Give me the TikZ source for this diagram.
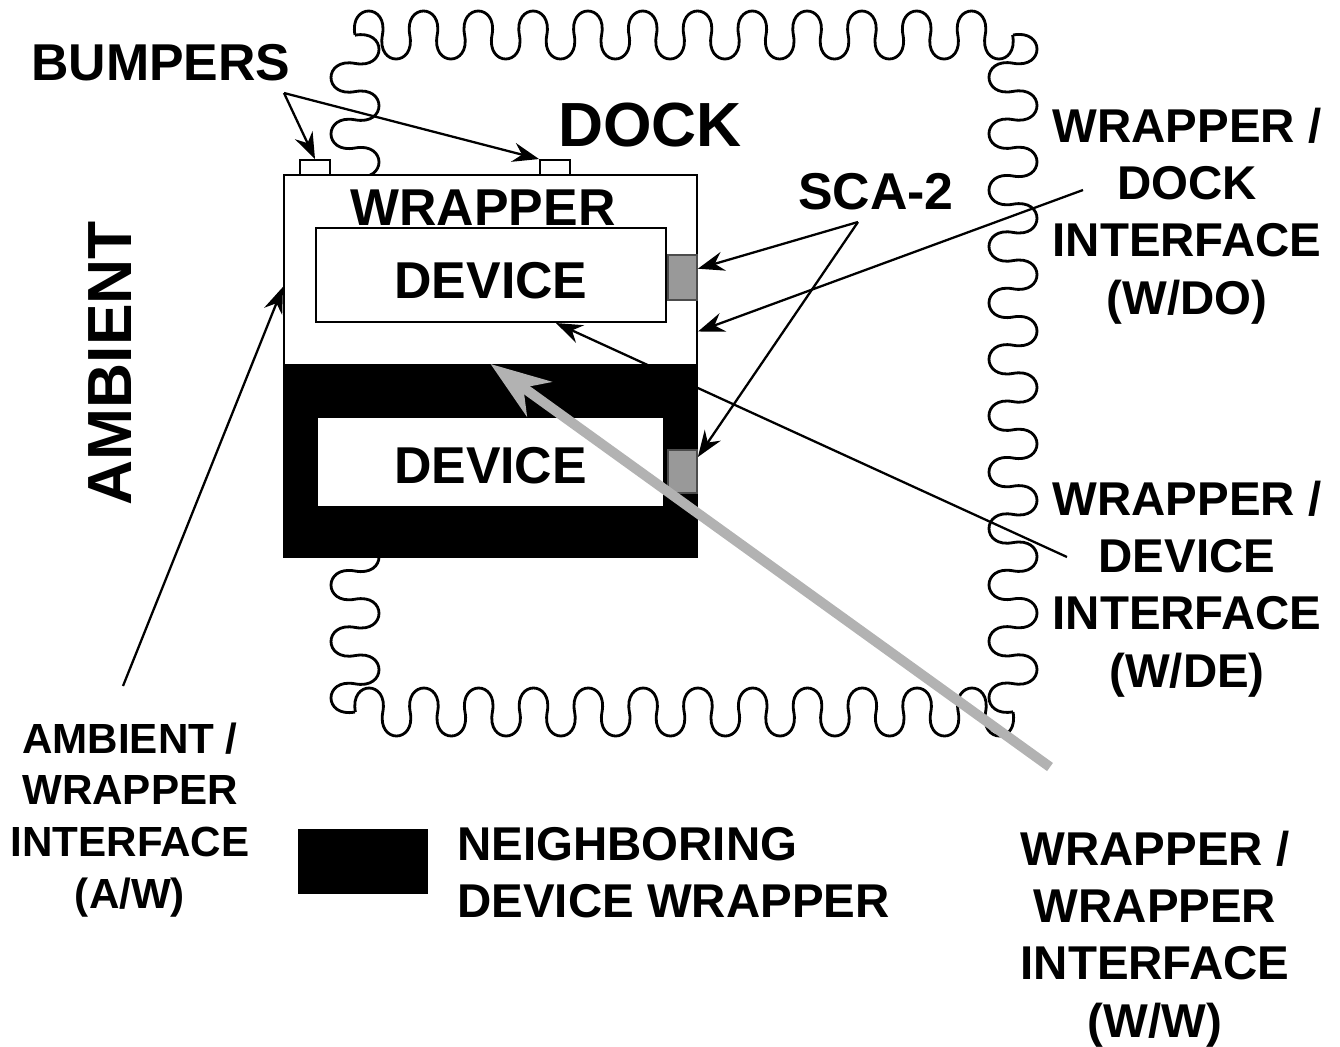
\documentclass[tikz,border=0pt]{standalone}
\usepackage{fontspec}
\setmainfont{Liberation Sans}
\usetikzlibrary{arrows.meta}

\tikzset{
  box/.style={draw, line width=1.2pt, fill=white, inner sep=0pt},
  sca/.style={draw=black!70, line width=1pt, fill=black!40, inner sep=0pt, minimum width=0.58cm},
  bumper/.style={draw, line width=1.1pt, fill=white, inner sep=0pt, minimum width=0.6cm, minimum height=0.3cm},
  pointer/.style={line width=1.3pt, -{Stealth[length=15pt,width=11pt,inset=5pt]}},
  dockline/.style={line width=1.6pt, line join=round},
  hugetext/.style={inner sep=0pt, font=\fontsize{35.5}{40}\selectfont\bfseries},
  bigtext/.style={inner sep=0pt, font=\fontsize{29.5}{34}\selectfont\bfseries},
  midtext/.style={inner sep=0pt, font=\fontsize{27}{32.6}\selectfont\bfseries, align=center},
  smalltext/.style={inner sep=0pt, font=\fontsize{24}{29.5}\selectfont\bfseries, align=center},
}

\begin{document}
\begin{tikzpicture}[x=0.02cm, y=-0.02cm]
    \useasboundingbox (0,0) rectangle (1340,1046);

    % 1. The dock (wavy outline), one edge at a time
    \coordinate (DTL) at (355,35);    % dock top left
    \coordinate (DTR) at (1013,35);   % dock top right
    \coordinate (DBR) at (1013,712);  % dock bottom right
    \coordinate (DBL) at (355,712);   % dock bottom left
    % top edge, going right
    \draw[dockline] (DTL) \foreach \i in {1,...,12} {
        .. controls +(-6,-32) and +(6,-32) .. ++(27.4,0)
        .. controls +(-6,32) and +(6,32) .. ++(27.4,0)};
    % right edge, going down
    \draw[dockline] (DTR) \foreach \i in {1,...,12} {
        .. controls +(32,-6) and +(32,6) .. ++(0,28.2)
        .. controls +(-32,-6) and +(-32,6) .. ++(0,28.2)};
    % bottom edge, going left
    \draw[dockline] (DBR) \foreach \i in {1,...,12} {
        .. controls +(6,32) and +(-6,32) .. ++(-27.4,0)
        .. controls +(6,-32) and +(-6,-32) .. ++(-27.4,0)};
    % left edge, going up
    \draw[dockline] (DBL) \foreach \i in {1,...,12} {
        .. controls +(-32,6) and +(-32,-6) .. ++(0,-28.2)
        .. controls +(32,6) and +(32,-6) .. ++(0,-28.2)};

    % 2. The wrapper and its device
    \node[box, minimum width=8.26cm, minimum height=3.8cm] (wrapper) at (490.5,270) {};
    \node[bigtext] (wraptext) at (483,208) {WRAPPER};
    \node[box, minimum width=7cm, minimum height=1.88cm] (devU) at (491,275) {};
    \node[bigtext] at ([yshift=-3.4pt]devU.center) {DEVICE};

    % W/DE line runs behind the neighbouring wrapper
    \coordinate (wdeend) at (1067,557);
    \draw[pointer] (wdeend) -- ([xshift=37pt]devU.south);

    % 3. The neighbouring device wrapper
    \node[box, fill=black, minimum width=8.26cm, minimum height=3.84cm] (nbr) at (490.5,461) {};
    \node[box, minimum width=6.94cm, minimum height=1.8cm] (devL) at (490.5,462) {};
    \node[bigtext] at ([yshift=-2.3pt]devL.center) {DEVICE};

    % SCA-2 connectors
    \node[sca, minimum height=0.9cm] (scaU) at (682.5,277.5) {};
    \node[sca, minimum height=0.86cm] (scaL) at (682.5,471.5) {};

    % Bumpers
    \node[bumper] (bumpL) at (315,167.5) {};
    \node[bumper] (bumpR) at (555,167.5) {};

    % 4. Labels
    \node[bigtext] (bumpers) at (161,63) {BUMPERS};
    \node[hugetext] (dock) at (650,125) {DOCK};
    \node[hugetext, rotate=90] (ambient) at (110,363) {AMBIENT};
    \node[bigtext] (scalabel) at (876,192) {SCA-2};
    \node[midtext] (wdo) at (1187,216) {WRAPPER /\\DOCK\\INTERFACE\\(W/DO)};
    \node[midtext] (wde) at (1187,589) {WRAPPER /\\DEVICE\\INTERFACE\\(W/DE)};
    \node[midtext] (ww) at (1155,939) {WRAPPER /\\WRAPPER\\INTERFACE\\(W/W)};
    \node[smalltext] (aw) at (130,820) {AMBIENT /\\WRAPPER\\INTERFACE\\(A/W)};

    % Legend
    \node[box, fill=black, minimum width=2.56cm, minimum height=1.26cm] (legend) at (363,861.5) {};
    \node[midtext, align=left, anchor=west] (legendtext) at (457,873) {NEIGHBORING\\DEVICE WRAPPER};

    % 5. Pointers
    \coordinate (bumpfork) at (284,93);
    \draw[pointer] (bumpfork) -- (bumpL.north);
    \draw[pointer] (bumpfork) -- (bumpR.north west);

    \coordinate (scafork) at (858,222);
    \draw[pointer] (scafork) -- ([yshift=5pt]scaU.east);
    \draw[pointer] (scafork) -- ([yshift=-4.5pt]scaL.north east);

    \coordinate (wdoend) at (1083,190);
    \draw[pointer] (wdoend) -- ([yshift=-35pt]wrapper.east);

    \coordinate (awend) at (123,686);
    \draw[pointer] (awend) -- ([yshift=-9.6pt]wrapper.west);

    % 6. Wrapper / wrapper interface, grey and on top
    \coordinate (wwend) at (1050,767);
    \draw[line width=5.7pt, black!30, -{Stealth[length=34pt,width=24pt,inset=11pt]}] (wwend) -- (nbr.north);

\end{tikzpicture}
\end{document}
